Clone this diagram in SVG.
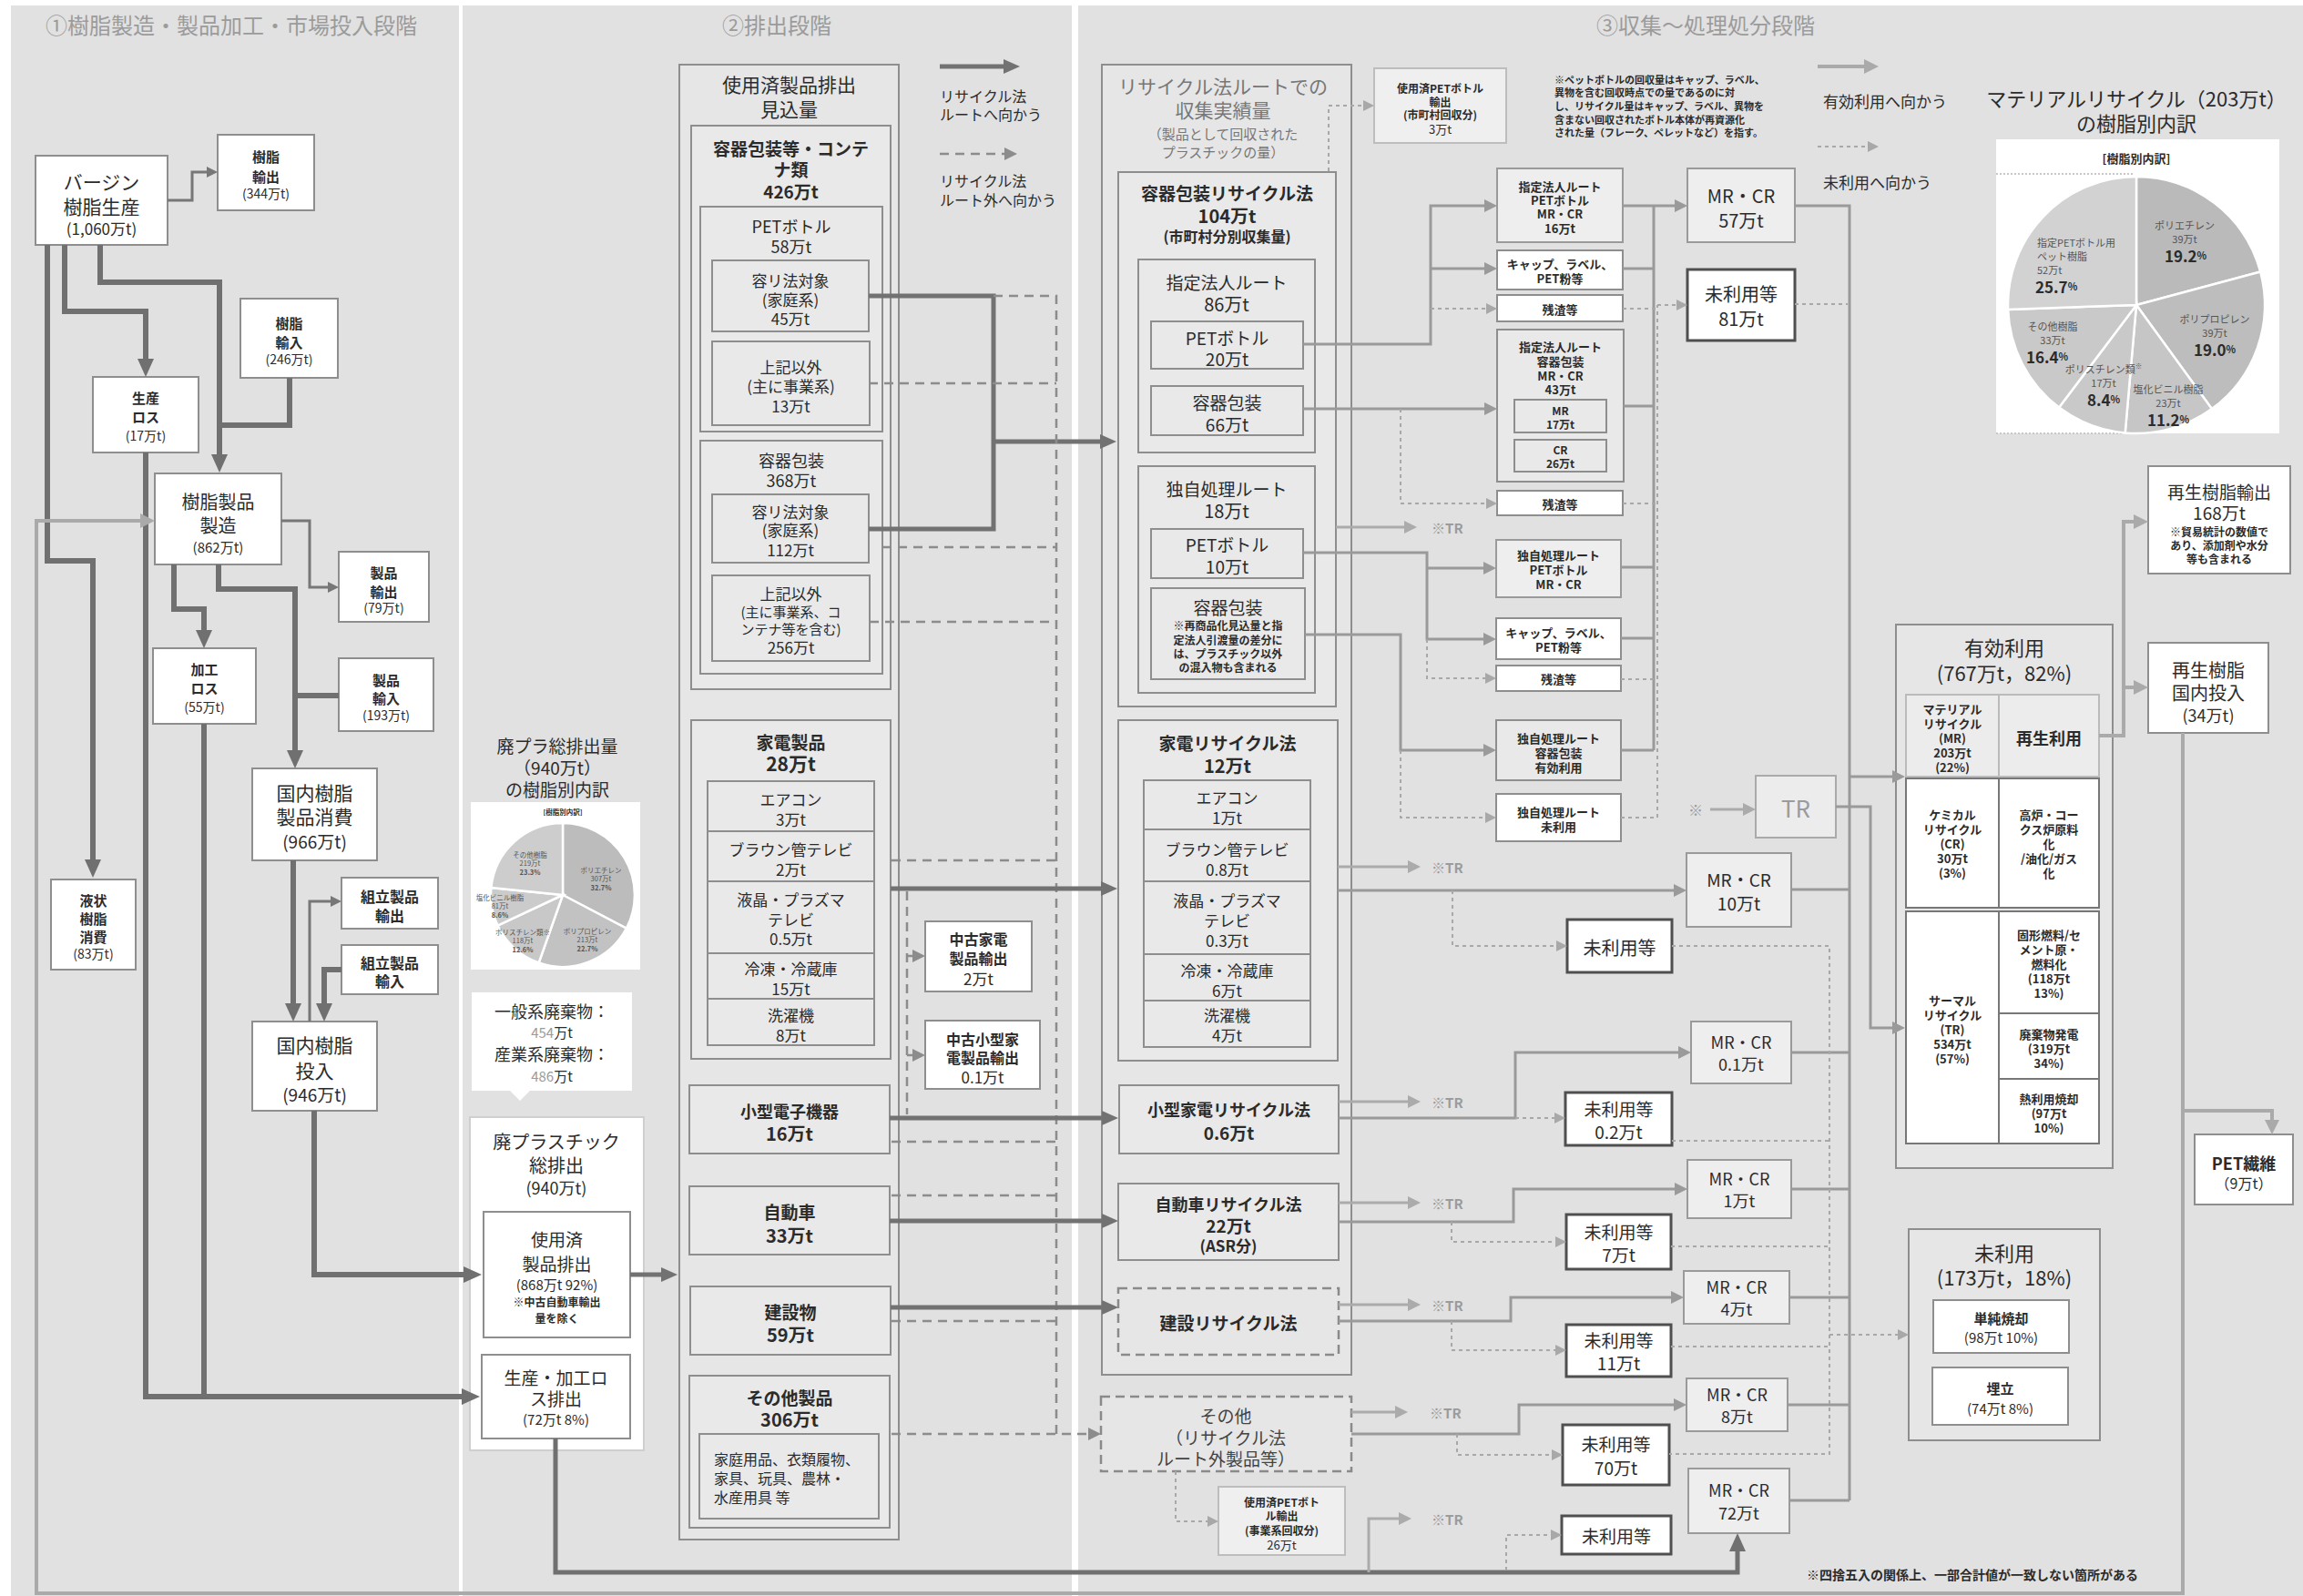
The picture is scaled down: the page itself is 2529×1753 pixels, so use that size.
<svg xmlns="http://www.w3.org/2000/svg" width="2529" height="1753" viewBox="0 0 2529 1753">
<style>
text{font-family:"Noto Sans CJK JP","Noto Sans CJK SC",sans-serif;fill:#2b2b2b;text-anchor:middle;dominant-baseline:central}
.st{text-anchor:start}
.b{font-weight:700}
.gr{fill:#9b9b9b}
.dg{fill:#555}
.f7{font-size:7.5px}.f11{font-size:11px}.f12{font-size:12px}.f13{font-size:13px}.f14{font-size:14px}.f15{font-size:15px}.f16{font-size:16px}.f17{font-size:17px}.f18{font-size:18px}.f19{font-size:19px}.f20{font-size:20px}.f21{font-size:21px}.f22{font-size:22px}.f24{font-size:24px}.f26{font-size:26px}
.pnl{fill:#e1e1e1}
.bw{fill:#fff;stroke:#8e8e8e;stroke-width:2}
.bg{fill:#e9e9e9;stroke:#8e8e8e;stroke-width:2}
.bo{fill:#e6e6e6;stroke:#8e8e8e;stroke-width:2}
.bl{fill:#eeeeee;stroke:#9a9a9a;stroke-width:2}
.bp{fill:#efefef;stroke:#bdbdbd;stroke-width:2}
.bu{fill:#fff;stroke:#4f4f4f;stroke-width:3}
.bd{fill:#e6e6e6;stroke:#8a8a8a;stroke-width:2.5;stroke-dasharray:10 6}
.ct{fill:none;stroke:#707070;stroke-width:6}
.cb{fill:none;stroke:#707070;stroke-width:5}
.cm{fill:none;stroke:#727272;stroke-width:5}
.cn{fill:none;stroke:#777;stroke-width:3}
.cg{fill:none;stroke:#9a9a9a;stroke-width:3}
.cp{fill:none;stroke:#ababab;stroke-width:3}
.cd{fill:none;stroke:#8c8c8c;stroke-width:2.5;stroke-dasharray:10 7}
.co{fill:none;stroke:#a8a8a8;stroke-width:2;stroke-dasharray:4 4}
.cl{fill:none;stroke:#aaaaaa;stroke-width:4}
.sep{stroke:#fff;stroke-width:2.5}
</style>
<defs>
<marker id="aT" viewBox="0 0 20 18" refX="4" refY="9" markerWidth="20" markerHeight="18" markerUnits="userSpaceOnUse" orient="auto"><path d="M0,0 L20,9 L0,18 Z" fill="#707070"/></marker>
<marker id="aM" viewBox="0 0 18 16" refX="4" refY="8" markerWidth="18" markerHeight="16" markerUnits="userSpaceOnUse" orient="auto"><path d="M0,0 L18,8 L0,16 Z" fill="#727272"/></marker>
<marker id="aN" viewBox="0 0 12 12" refX="2" refY="6" markerWidth="12" markerHeight="12" markerUnits="userSpaceOnUse" orient="auto"><path d="M0,0 L12,6 L0,12 Z" fill="#777"/></marker>
<marker id="aG" viewBox="0 0 14 14" refX="2" refY="7" markerWidth="14" markerHeight="14" markerUnits="userSpaceOnUse" orient="auto"><path d="M0,0 L14,7 L0,14 Z" fill="#9a9a9a"/></marker>
<marker id="aP" viewBox="0 0 14 14" refX="2" refY="7" markerWidth="14" markerHeight="14" markerUnits="userSpaceOnUse" orient="auto"><path d="M0,0 L14,7 L0,14 Z" fill="#ababab"/></marker>
<marker id="aD" viewBox="0 0 14 14" refX="2" refY="7" markerWidth="14" markerHeight="14" markerUnits="userSpaceOnUse" orient="auto"><path d="M0,0 L14,7 L0,14 Z" fill="#8c8c8c"/></marker>
<marker id="aO" viewBox="0 0 12 12" refX="2" refY="6" markerWidth="12" markerHeight="12" markerUnits="userSpaceOnUse" orient="auto"><path d="M0,0 L12,6 L0,12 Z" fill="#a8a8a8"/></marker>
<marker id="aL" viewBox="0 0 16 16" refX="3" refY="8" markerWidth="16" markerHeight="16" markerUnits="userSpaceOnUse" orient="auto"><path d="M0,0 L16,8 L0,16 Z" fill="#aaaaaa"/></marker>
</defs>

<rect width="2529" height="1753" fill="#fff"/>
<!-- stage panels -->
<g id="panels">
<rect class="pnl" x="12" y="6" width="492" height="1747"/>
<rect class="pnl" x="508" y="6" width="669" height="1747"/>
<rect class="pnl" x="1184" y="6" width="1345" height="1747"/>
<text class="f24 gr" x="254" y="26">①樹脂製造・製品加工・市場投入段階</text>
<text class="f24 gr" x="853" y="26">②排出段階</text>
<text class="f24 gr" x="1873" y="26">③収集～処理処分段階</text>
</g>

<!-- stage 1 -->
<g id="n-virgin"><rect class="bw" x="39" y="171" width="145" height="98"/><text class="f21"><tspan x="111.5" y="199">バージン</tspan><tspan x="111.5" y="226">樹脂生産</tspan></text><text class="f17" x="111.5" y="250">(1,060万t)</text></g>
<g id="n-resin-export"><rect class="bw" x="239" y="148" width="106" height="83"/><text class="f15 b"><tspan x="292" y="171">樹脂</tspan><tspan x="292" y="193">輸出</tspan></text><text class="f14" x="292" y="212">(344万t)</text></g>
<g id="n-resin-import"><rect class="bw" x="264" y="328" width="107" height="87"/><text class="f15 b"><tspan x="317.5" y="354">樹脂</tspan><tspan x="317.5" y="375">輸入</tspan></text><text class="f14" x="317.5" y="394">(246万t)</text></g>
<g id="n-prod-loss"><rect class="bw" x="102" y="414" width="116" height="83"/><text class="f15 b"><tspan x="160" y="436">生産</tspan><tspan x="160" y="457">ロス</tspan></text><text class="f14" x="160" y="478">(17万t)</text></g>
<g id="n-resin-product"><rect class="bw" x="170" y="520" width="139" height="100"/><text class="f20"><tspan x="239.5" y="550">樹脂製品</tspan><tspan x="239.5" y="576">製造</tspan></text><text class="f15" x="239.5" y="600">(862万t)</text></g>
<g id="n-product-export"><rect class="bw" x="372" y="606" width="99" height="77"/><text class="f15 b"><tspan x="421.5" y="628">製品</tspan><tspan x="421.5" y="649">輸出</tspan></text><text class="f14" x="421.5" y="667">(79万t)</text></g>
<g id="n-proc-loss"><rect class="bw" x="168" y="712" width="113" height="83"/><text class="f15 b"><tspan x="224.5" y="734">加工</tspan><tspan x="224.5" y="755">ロス</tspan></text><text class="f14" x="224.5" y="776">(55万t)</text></g>
<g id="n-product-import"><rect class="bw" x="372" y="723" width="104" height="80"/><text class="f15 b"><tspan x="424" y="746">製品</tspan><tspan x="424" y="766">輸入</tspan></text><text class="f14" x="424" y="785">(193万t)</text></g>
<g id="n-domestic-consume"><rect class="bw" x="277" y="844" width="137" height="101"/><text class="f21"><tspan x="345.5" y="870">国内樹脂</tspan><tspan x="345.5" y="896">製品消費</tspan></text><text class="f19" x="345.5" y="923">(966万t)</text></g>
<g id="n-liquid"><rect class="bw" x="56" y="966" width="93" height="99"/><text class="f15 b"><tspan x="102.5" y="988">液状</tspan><tspan x="102.5" y="1008">樹脂</tspan><tspan x="102.5" y="1028">消費</tspan></text><text class="f14" x="102.5" y="1047">(83万t)</text></g>
<g id="n-assy-export"><rect class="bw" x="375" y="964" width="106" height="56"/><text class="f16 b"><tspan x="428" y="984">組立製品</tspan><tspan x="428" y="1005">輸出</tspan></text></g>
<g id="n-assy-import"><rect class="bw" x="375" y="1038" width="106" height="54"/><text class="f16 b"><tspan x="428" y="1057">組立製品</tspan><tspan x="428" y="1077">輸入</tspan></text></g>
<g id="n-domestic-input"><rect class="bw" x="277" y="1122" width="137" height="98"/><text class="f21"><tspan x="345.5" y="1147">国内樹脂</tspan><tspan x="345.5" y="1175">投入</tspan></text><text class="f19" x="345.5" y="1201">(946万t)</text></g>

<!-- stage 2: waste plastic breakdown -->
<g id="n-waste-pie">
<text class="f19"><tspan x="612" y="818">廃プラ総排出量</tspan><tspan x="612" y="842">（940万t）</tspan><tspan x="612" y="866">の樹脂別内訳</tspan></text>
<rect x="517" y="881" width="186" height="184" fill="#fff"/>
<text class="f7 b" x="618" y="891">[樹脂別内訳]</text>
<path d="M618,983 L618,904 A79,79 0 0 1 687.9,1019.7 Z" fill="#bcbcbc" class="sep"/>
<path d="M618,983 L687.9,1019.7 A79,79 0 0 1 591.7,1057.5 Z" fill="#c2c2c2" class="sep"/>
<path d="M618,983 L591.7,1057.5 A79,79 0 0 1 546.5,1016.6 Z" fill="#c8c8c8" class="sep"/>
<path d="M618,983 L546.5,1016.6 A79,79 0 0 1 539.4,975.1 Z" fill="#cbcbcb" class="sep"/>
<path d="M618,983 L539.4,975.1 A79,79 0 0 1 618,904 Z" fill="#cdcdcd" class="sep"/>
<text class="f7 dg"><tspan x="582" y="938">その他樹脂</tspan><tspan x="582" y="947">219万t</tspan><tspan x="582" y="957" class="b">23.3%</tspan></text>
<text class="f7 dg"><tspan x="660" y="955">ポリエチレン</tspan><tspan x="660" y="964">307万t</tspan><tspan x="660" y="974" class="b">32.7%</tspan></text>
<text class="f7 dg"><tspan x="645" y="1022">ポリプロピレン</tspan><tspan x="645" y="1031">213万t</tspan><tspan x="645" y="1041" class="b">22.7%</tspan></text>
<text class="f7 dg"><tspan x="574" y="1023">ポリスチレン類※</tspan><tspan x="574" y="1032">118万t</tspan><tspan x="574" y="1042" class="b">12.6%</tspan></text>
<text class="f7 dg"><tspan x="549" y="985">塩化ビニル樹脂</tspan><tspan x="549" y="994">81万t</tspan><tspan x="549" y="1004" class="b">8.6%</tspan></text>
</g>
<g id="n-waste-split">
<path d="M518,1090 H694 V1198 H582 L571,1209 L560,1198 H518 Z" fill="#fff"/>
<text class="f18" x="606" y="1110">一般系廃棄物：</text>
<text class="f15" x="606" y="1133"><tspan class="gr">454</tspan>万t</text>
<text class="f18" x="606" y="1157">産業系廃棄物：</text>
<text class="f15" x="606" y="1181"><tspan class="gr">486</tspan>万t</text>
</g>
<g id="n-waste-total">
<rect x="516" y="1227" width="191" height="366" fill="#fff" stroke="#cfcfcf" stroke-width="2"/>
<text class="f20"><tspan x="611" y="1253">廃プラスチック</tspan><tspan x="611" y="1279">総排出</tspan></text><text class="f18" x="611" y="1304">(940万t)</text>
</g>
<g id="n-used-discharge"><rect class="bw" x="531" y="1331" width="161" height="138"/><text class="f19"><tspan x="611.5" y="1360">使用済</tspan><tspan x="611.5" y="1387">製品排出</tspan></text><text class="f15" x="611.5" y="1410">(868万t 92%)</text><text class="f12 b"><tspan x="611.5" y="1429">※中古自動車輸出</tspan><tspan x="611.5" y="1447">量を除く</tspan></text></g>
<g id="n-loss-discharge"><rect class="bw" x="529" y="1488" width="163" height="92"/><text class="f19"><tspan x="610.5" y="1512">生産・加工ロ</tspan><tspan x="610.5" y="1535">ス排出</tspan></text><text class="f15" x="610.5" y="1558">(72万t 8%)</text></g>

<!-- stage 2: expected discharge of used products -->
<g id="n-expected">
<rect class="bo" x="746" y="71" width="241" height="1620"/>
<text class="f21"><tspan x="866.5" y="92">使用済製品排出</tspan><tspan x="866.5" y="119">見込量</tspan></text>
</g>
<g id="n-container">
<rect class="bg" x="759" y="138" width="219" height="619"/>
<text class="f19 b"><tspan x="868.5" y="162">容器包装等・コンテ</tspan><tspan x="868.5" y="185">ナ類</tspan><tspan x="868.5" y="209">426万t</tspan></text>
<rect class="bg" x="769" y="227" width="200" height="247"/>
<text class="f18"><tspan x="869" y="248">PETボトル</tspan><tspan x="869" y="270">58万t</tspan></text>
<rect class="bg" x="782" y="286" width="172" height="78"/>
<text class="f17"><tspan x="868" y="307">容リ法対象</tspan><tspan x="868" y="328">(家庭系)</tspan><tspan x="868" y="349">45万t</tspan></text>
<rect class="bg" x="782" y="375" width="173" height="92"/>
<text class="f17"><tspan x="868.5" y="402">上記以外</tspan><tspan x="868.5" y="423">(主に事業系)</tspan><tspan x="868.5" y="445">13万t</tspan></text>
<rect class="bg" x="769" y="484" width="200" height="256"/>
<text class="f18"><tspan x="869" y="505">容器包装</tspan><tspan x="869" y="527">368万t</tspan></text>
<rect class="bg" x="782" y="543" width="172" height="75"/>
<text class="f17"><tspan x="868" y="561">容リ法対象</tspan><tspan x="868" y="581">(家庭系)</tspan><tspan x="868" y="603">112万t</tspan></text>
<rect class="bg" x="782" y="632" width="173" height="94"/>
<text class="f17"><tspan x="868.5" y="651">上記以外</tspan><tspan x="868.5" y="671" class="f15">(主に事業系、コ</tspan><tspan x="868.5" y="690" class="f15">ンテナ等を含む)</tspan><tspan x="868.5" y="710">256万t</tspan></text>
</g>
<g id="n-appliance">
<rect class="bg" x="759" y="791" width="219" height="372"/>
<text class="b"><tspan x="868.5" y="814" class="f19">家電製品</tspan><tspan x="868.5" y="838" class="f21">28万t</tspan></text>
<rect class="bg" x="777" y="858" width="183" height="55"/><text class="f17"><tspan x="868.5" y="877">エアコン</tspan><tspan x="868.5" y="899">3万t</tspan></text>
<rect class="bg" x="777" y="913" width="183" height="55"/><text class="f17"><tspan x="868.5" y="932">ブラウン管テレビ</tspan><tspan x="868.5" y="954">2万t</tspan></text>
<rect class="bg" x="777" y="968" width="183" height="79"/><text class="f17"><tspan x="868.5" y="987">液晶・プラズマ</tspan><tspan x="868.5" y="1009">テレビ</tspan><tspan x="868.5" y="1030">0.5万t</tspan></text>
<rect class="bg" x="777" y="1047" width="183" height="50"/><text class="f17"><tspan x="868.5" y="1063">冷凍・冷蔵庫</tspan><tspan x="868.5" y="1085">15万t</tspan></text>
<rect class="bg" x="777" y="1097" width="183" height="51"/><text class="f17"><tspan x="868.5" y="1114">洗濯機</tspan><tspan x="868.5" y="1136">8万t</tspan></text>
</g>
<g id="n-small-electronics"><rect class="bg" x="757" y="1192" width="220" height="75"/><text class="b"><tspan x="867" y="1220" class="f18">小型電子機器</tspan><tspan x="867" y="1244" class="f20">16万t</tspan></text></g>
<g id="n-car"><rect class="bg" x="757" y="1303" width="220" height="75"/><text class="b"><tspan x="867" y="1330" class="f19">自動車</tspan><tspan x="867" y="1356" class="f20">33万t</tspan></text></g>
<g id="n-building"><rect class="bg" x="758" y="1413" width="220" height="75"/><text class="b"><tspan x="868" y="1440" class="f19">建設物</tspan><tspan x="868" y="1465" class="f20">59万t</tspan></text></g>
<g id="n-other-products">
<rect class="bg" x="757" y="1511" width="220" height="167"/>
<text class="b"><tspan x="867" y="1534" class="f19">その他製品</tspan><tspan x="867" y="1558" class="f20">306万t</tspan></text>
<rect class="bg" x="768" y="1575" width="197" height="93"/>
<text class="f16 st"><tspan x="784" y="1602">家庭用品、衣類履物、</tspan><tspan x="784" y="1623">家具、玩具、農林・</tspan><tspan x="784" y="1644">水産用具 等</tspan></text>
</g>
<g id="n-used-appliance-export"><rect class="bw" x="1016" y="1012" width="117" height="77"/><text class="f16 b"><tspan x="1074.5" y="1031">中古家電</tspan><tspan x="1074.5" y="1052">製品輸出</tspan></text><text class="f17" x="1074.5" y="1074">2万t</text></g>
<g id="n-used-small-export"><rect class="bw" x="1016" y="1121" width="126" height="75"/><text class="f16 b"><tspan x="1079" y="1141">中古小型家</tspan><tspan x="1079" y="1161">電製品輸出</tspan></text><text class="f17" x="1079" y="1182">0.1万t</text></g>
<g id="legend-stage2">
<text class="f16 st"><tspan x="1032" y="105">リサイクル法</tspan><tspan x="1032" y="125">ルートへ向かう</tspan></text>
<text class="f16 st"><tspan x="1032" y="198">リサイクル法</tspan><tspan x="1032" y="219">ルート外へ向かう</tspan></text>
</g>

<!-- stage 3: collection under recycling laws -->
<g id="n-collected">
<rect class="bo" x="1210" y="71" width="274" height="1439"/>
<text class="f21" style="fill:#777"><tspan x="1343" y="94">リサイクル法ルートでの</tspan><tspan x="1343" y="120">収集実績量</tspan></text>
<text class="f15" style="fill:#777"><tspan x="1343" y="146">（製品として回収された</tspan><tspan x="1343" y="166">プラスチックの量）</tspan></text>
</g>
<g id="n-pet-export-muni"><rect class="bp" x="1509" y="75" width="145" height="82"/><text class="f12 b"><tspan x="1581.5" y="96">使用済PETボトル</tspan><tspan x="1581.5" y="111">輸出</tspan><tspan x="1581.5" y="125">(市町村回収分)</tspan></text><text class="f13" x="1581.5" y="141">3万t</text></g>
<g id="note-pet">
<text class="f11 b st"><tspan x="1707" y="87">※ペットボトルの回収量はキャップ、ラベル、</tspan><tspan x="1707" y="101">異物を含む回収時点での量であるのに対</tspan><tspan x="1707" y="116">し、リサイクル量はキャップ、ラベル、異物を</tspan><tspan x="1707" y="131">含まない回収されたボトル本体が再資源化</tspan><tspan x="1707" y="145">された量（フレーク、ペレットなど）を指す。</tspan></text>
</g>
<g id="n-packaging-law">
<rect class="bg" x="1228" y="189" width="239" height="587"/>
<text class="b"><tspan x="1347.5" y="211" class="f19">容器包装リサイクル法</tspan><tspan x="1347.5" y="236" class="f20">104万t</tspan><tspan x="1347.5" y="259" class="f16">(市町村分別収集量)</tspan></text>
<rect class="bg" x="1250" y="285" width="194" height="212"/>
<text class="f19"><tspan x="1347" y="309">指定法人ルート</tspan><tspan x="1347" y="333" class="f20">86万t</tspan></text>
<rect class="bg" x="1264" y="353" width="167" height="52"/><text class="f19"><tspan x="1347.5" y="370">PETボトル</tspan><tspan x="1347.5" y="393">20万t</tspan></text>
<rect class="bg" x="1264" y="424" width="167" height="54"/><text class="f19"><tspan x="1347.5" y="441">容器包装</tspan><tspan x="1347.5" y="465">66万t</tspan></text>
<rect class="bg" x="1250" y="512" width="194" height="249"/>
<text class="f19"><tspan x="1347" y="536">独自処理ルート</tspan><tspan x="1347" y="560" class="f20">18万t</tspan></text>
<rect class="bg" x="1264" y="581" width="167" height="54"/><text class="f19"><tspan x="1347.5" y="597">PETボトル</tspan><tspan x="1347.5" y="621">10万t</tspan></text>
<rect class="bg" x="1264" y="646" width="169" height="100"/><text class="f19" x="1348.5" y="666">容器包装</text>
<text class="f12 b"><tspan x="1348.5" y="686">※再商品化見込量と指</tspan><tspan x="1348.5" y="702">定法人引渡量の差分に</tspan><tspan x="1348.5" y="717">は、プラスチック以外</tspan><tspan x="1348.5" y="732">の混入物も含まれる</tspan></text>
</g>
<g id="n-appliance-law">
<rect class="bg" x="1228" y="791" width="241" height="374"/>
<text class="b"><tspan x="1348" y="815" class="f19">家電リサイクル法</tspan><tspan x="1348" y="840" class="f20">12万t</tspan></text>
<rect class="bg" x="1256" y="857" width="183" height="54"/><text class="f17"><tspan x="1347.5" y="875">エアコン</tspan><tspan x="1347.5" y="897">1万t</tspan></text>
<rect class="bg" x="1256" y="911" width="183" height="57"/><text class="f17"><tspan x="1347.5" y="932">ブラウン管テレビ</tspan><tspan x="1347.5" y="954">0.8万t</tspan></text>
<rect class="bg" x="1256" y="968" width="183" height="80"/><text class="f17"><tspan x="1347.5" y="988">液晶・プラズマ</tspan><tspan x="1347.5" y="1010">テレビ</tspan><tspan x="1347.5" y="1032">0.3万t</tspan></text>
<rect class="bg" x="1256" y="1048" width="183" height="51"/><text class="f17"><tspan x="1347.5" y="1065">冷凍・冷蔵庫</tspan><tspan x="1347.5" y="1087">6万t</tspan></text>
<rect class="bg" x="1256" y="1099" width="183" height="51"/><text class="f17"><tspan x="1347.5" y="1114">洗濯機</tspan><tspan x="1347.5" y="1136">4万t</tspan></text>
</g>
<g id="n-small-law"><rect class="bg" x="1229" y="1192" width="241" height="75"/><text class="b"><tspan x="1349.5" y="1218" class="f18">小型家電リサイクル法</tspan><tspan x="1349.5" y="1243" class="f19">0.6万t</tspan></text></g>
<g id="n-car-law"><rect class="bg" x="1228" y="1300" width="242" height="84"/><text class="b"><tspan x="1349" y="1322" class="f18">自動車リサイクル法</tspan><tspan x="1349" y="1345" class="f19">22万t</tspan><tspan x="1349" y="1367" class="f17">(ASR分)</tspan></text></g>
<g id="n-building-law"><rect class="bd" x="1228" y="1415" width="242" height="73"/><text class="f19 b" x="1349" y="1452">建設リサイクル法</text></g>
<g id="n-other-route"><rect class="bd" x="1209" y="1534" width="275" height="82"/><text class="f19" style="fill:#444"><tspan x="1346" y="1554">その他</tspan><tspan x="1346" y="1578">（リサイクル法</tspan><tspan x="1346" y="1601">ルート外製品等）</tspan></text></g>
<g id="n-pet-export-biz"><rect class="bp" x="1338" y="1633" width="139" height="75"/><text class="f12 b"><tspan x="1407.5" y="1649">使用済PETボト</tspan><tspan x="1407.5" y="1664">ル輸出</tspan><tspan x="1407.5" y="1680">(事業系回収分)</tspan></text><text class="f13" x="1407.5" y="1696">26万t</text></g>

<!-- stage 3: treatment routes -->
<g id="n-dr-pet"><rect class="bl" x="1644" y="185" width="138" height="81"/><text class="f13 b"><tspan x="1713" y="204">指定法人ルート</tspan><tspan x="1713" y="219">PETボトル</tspan><tspan x="1713" y="234">MR・CR</tspan><tspan x="1713" y="250">16万t</tspan></text></g>
<g id="n-dr-cap"><rect class="bw" x="1644" y="275" width="138" height="43"/><text class="f13 b"><tspan x="1713" y="289">キャップ、ラベル、</tspan><tspan x="1713" y="305">PET粉等</tspan></text></g>
<g id="n-dr-residue1"><rect class="bw" x="1644" y="324" width="138" height="29"/><text class="f13 b" x="1713" y="339">残渣等</text></g>
<g id="n-dr-pack"><rect class="bg" x="1644" y="362" width="139" height="167"/><text class="f13 b"><tspan x="1713.5" y="380">指定法人ルート</tspan><tspan x="1713.5" y="396">容器包装</tspan><tspan x="1713.5" y="412">MR・CR</tspan><tspan x="1713.5" y="427">43万t</tspan></text>
<rect class="bg" x="1663" y="439" width="101" height="36"/><text class="f12 b"><tspan x="1713.5" y="450">MR</tspan><tspan x="1713.5" y="465">17万t</tspan></text>
<rect class="bg" x="1663" y="483" width="101" height="35"/><text class="f12 b"><tspan x="1713.5" y="493">CR</tspan><tspan x="1713.5" y="508">26万t</tspan></text></g>
<g id="n-dr-residue2"><rect class="bw" x="1644" y="539" width="138" height="27"/><text class="f13 b" x="1713" y="553">残渣等</text></g>
<g id="n-own-pet"><rect class="bl" x="1643" y="593" width="137" height="63"/><text class="f13 b"><tspan x="1711.5" y="609">独自処理ルート</tspan><tspan x="1711.5" y="625">PETボトル</tspan><tspan x="1711.5" y="641">MR・CR</tspan></text></g>
<g id="n-own-cap"><rect class="bw" x="1643" y="679" width="137" height="45"/><text class="f13 b"><tspan x="1711.5" y="694">キャップ、ラベル、</tspan><tspan x="1711.5" y="710">PET粉等</tspan></text></g>
<g id="n-own-residue"><rect class="bw" x="1643" y="731" width="137" height="28"/><text class="f13 b" x="1711.5" y="745">残渣等</text></g>
<g id="n-own-pack"><rect class="bg" x="1643" y="791" width="137" height="66"/><text class="f13 b"><tspan x="1711.5" y="810">独自処理ルート</tspan><tspan x="1711.5" y="826">容器包装</tspan><tspan x="1711.5" y="842">有効利用</tspan></text></g>
<g id="n-own-unused"><rect class="bw" x="1643" y="872" width="137" height="52"/><text class="f13 b"><tspan x="1711.5" y="891">独自処理ルート</tspan><tspan x="1711.5" y="907">未利用</tspan></text></g>

<g id="n-mr57"><rect class="bl" x="1853" y="185" width="118" height="81"/><text class="f20"><tspan x="1912" y="214">MR・CR</tspan><tspan x="1912" y="241">57万t</tspan></text></g>
<g id="n-un81"><rect class="bu" x="1853" y="296" width="118" height="78"/><text class="f20"><tspan x="1912" y="322">未利用等</tspan><tspan x="1912" y="349">81万t</tspan></text></g>
<g id="n-mr10"><rect class="bl" x="1852" y="937" width="115" height="81"/><text class="f19"><tspan x="1909.5" y="965">MR・CR</tspan><tspan x="1909.5" y="991">10万t</tspan></text></g>
<g id="n-un-app"><rect class="bu" x="1721" y="1010" width="115" height="58"/><text class="f20" x="1778.5" y="1040">未利用等</text></g>
<g id="n-mr01"><rect class="bl" x="1857" y="1122" width="110" height="68"/><text class="f18"><tspan x="1912" y="1144">MR・CR</tspan><tspan x="1912" y="1168">0.1万t</tspan></text></g>
<g id="n-un02"><rect class="bu" x="1719" y="1200" width="117" height="58"/><text class="f19"><tspan x="1777.5" y="1217">未利用等</tspan><tspan x="1777.5" y="1242">0.2万t</tspan></text></g>
<g id="n-mr1"><rect class="bl" x="1853" y="1274" width="114" height="64"/><text class="f18"><tspan x="1910" y="1294">MR・CR</tspan><tspan x="1910" y="1318">1万t</tspan></text></g>
<g id="n-un7"><rect class="bu" x="1720" y="1334" width="115" height="60"/><text class="f19"><tspan x="1777.5" y="1352">未利用等</tspan><tspan x="1777.5" y="1377">7万t</tspan></text></g>
<g id="n-mr4"><rect class="bl" x="1849" y="1396" width="116" height="58"/><text class="f18"><tspan x="1907" y="1413">MR・CR</tspan><tspan x="1907" y="1437">4万t</tspan></text></g>
<g id="n-un11"><rect class="bu" x="1720" y="1455" width="115" height="57"/><text class="f19"><tspan x="1777.5" y="1471">未利用等</tspan><tspan x="1777.5" y="1496">11万t</tspan></text></g>
<g id="n-mr8"><rect class="bl" x="1852" y="1514" width="111" height="58"/><text class="f18"><tspan x="1907.5" y="1531">MR・CR</tspan><tspan x="1907.5" y="1555">8万t</tspan></text></g>
<g id="n-un70"><rect class="bu" x="1716" y="1565" width="117" height="66"/><text class="f19"><tspan x="1774.5" y="1585">未利用等</tspan><tspan x="1774.5" y="1611">70万t</tspan></text></g>
<g id="n-mr72"><rect class="bl" x="1854" y="1613" width="111" height="71"/><text class="f18"><tspan x="1909.5" y="1636">MR・CR</tspan><tspan x="1909.5" y="1661">72万t</tspan></text></g>
<g id="n-un-last"><rect class="bu" x="1715" y="1665" width="120" height="42"/><text class="f19" x="1775" y="1686">未利用等</text></g>
<g id="n-tr"><rect x="1928" y="852" width="88" height="68" fill="#ececec" stroke="#aaa" stroke-width="2"/><text class="f26 gr" x="1972" y="886">TR</text><text class="f16 gr" x="1862" y="889">※</text></g>
<g id="tr-labels" class="f15 b">
<text class="gr st" x="1572" y="579">※TR</text>
<text class="gr st" x="1572" y="952">※TR</text>
<text class="gr st" x="1572" y="1210">※TR</text>
<text class="gr st" x="1572" y="1321">※TR</text>
<text class="gr st" x="1572" y="1433">※TR</text>
<text class="gr st" x="1570" y="1551">※TR</text>
<text class="gr st" x="1572" y="1668">※TR</text>
</g>

<!-- effective use / unused -->
<g id="n-effective">
<rect class="bo" x="2082" y="686" width="238" height="597"/>
<text class="f22"><tspan x="2201" y="710">有効利用</tspan><tspan x="2201" y="738">(767万t，82%)</tspan></text>
<rect x="2093" y="763" width="102" height="90" fill="#ececec" stroke="#bbb" stroke-width="2"/>
<text class="f13 b"><tspan x="2144" y="778">マテリアル</tspan><tspan x="2144" y="794">リサイクル</tspan><tspan x="2144" y="810">(MR)</tspan><tspan x="2144" y="826">203万t</tspan><tspan x="2144" y="842">(22%)</tspan></text>
<rect x="2195" y="763" width="110" height="90" fill="#ececec" stroke="#bbb" stroke-width="2"/>
<text class="f18 b" x="2250" y="810">再生利用</text>
<rect x="2093" y="855" width="102" height="142" fill="#fff" stroke="#777" stroke-width="2"/>
<text class="f13 b"><tspan x="2144" y="894">ケミカル</tspan><tspan x="2144" y="910">リサイクル</tspan><tspan x="2144" y="926">(CR)</tspan><tspan x="2144" y="942">30万t</tspan><tspan x="2144" y="958">(3%)</tspan></text>
<rect x="2195" y="855" width="110" height="142" fill="#fff" stroke="#777" stroke-width="2"/>
<text class="f13 b"><tspan x="2250" y="894">高炉・コー</tspan><tspan x="2250" y="910">クス炉原料</tspan><tspan x="2250" y="926">化</tspan><tspan x="2250" y="942">/油化/ガス</tspan><tspan x="2250" y="958">化</tspan></text>
<rect x="2093" y="1001" width="102" height="255" fill="#fff" stroke="#777" stroke-width="2"/>
<text class="f13 b"><tspan x="2144" y="1098">サーマル</tspan><tspan x="2144" y="1114">リサイクル</tspan><tspan x="2144" y="1130">(TR)</tspan><tspan x="2144" y="1146">534万t</tspan><tspan x="2144" y="1162">(57%)</tspan></text>
<rect x="2195" y="1001" width="110" height="112" fill="#fff" stroke="#777" stroke-width="2"/>
<text class="f13 b"><tspan x="2250" y="1026">固形燃料/セ</tspan><tspan x="2250" y="1042">メント原・</tspan><tspan x="2250" y="1058">燃料化</tspan><tspan x="2250" y="1074">(118万t</tspan><tspan x="2250" y="1090">13%)</tspan></text>
<rect x="2195" y="1113" width="110" height="72" fill="#fff" stroke="#777" stroke-width="2"/>
<text class="f13 b"><tspan x="2250" y="1135">廃棄物発電</tspan><tspan x="2250" y="1151">(319万t</tspan><tspan x="2250" y="1167">34%)</tspan></text>
<rect x="2195" y="1185" width="110" height="71" fill="#fff" stroke="#777" stroke-width="2"/>
<text class="f13 b"><tspan x="2250" y="1206">熱利用焼却</tspan><tspan x="2250" y="1222">(97万t</tspan><tspan x="2250" y="1238">10%)</tspan></text>
</g>
<g id="n-recycled-export"><rect class="bw" x="2359" y="512" width="156" height="118"/><text class="f19"><tspan x="2437" y="539">再生樹脂輸出</tspan><tspan x="2437" y="562">168万t</tspan></text><text class="f12 b"><tspan x="2437" y="583">※貿易統計の数値で</tspan><tspan x="2437" y="598">あり、添加剤や水分</tspan><tspan x="2437" y="613">等も含まれる</tspan></text></g>
<g id="n-recycled-domestic"><rect class="bw" x="2359" y="706" width="132" height="99"/><text class="f20"><tspan x="2425" y="735">再生樹脂</tspan><tspan x="2425" y="760">国内投入</tspan></text><text class="f18" x="2425" y="785">(34万t)</text></g>
<g id="n-pet-fiber"><rect class="bw" x="2410" y="1246" width="108" height="77"/><text class="f18 b" x="2464" y="1277">PET繊維</text><text class="f16" x="2464" y="1299">（9万t）</text></g>
<g id="n-unused">
<rect class="bo" x="2096" y="1350" width="210" height="232"/>
<text class="f22"><tspan x="2201" y="1375">未利用</tspan><tspan x="2201" y="1402">(173万t，18%)</tspan></text>
<rect class="bw" x="2123" y="1428" width="149" height="58"/><text class="f15"><tspan x="2197.5" y="1447" class="b">単純焼却</tspan><tspan x="2197.5" y="1468">(98万t 10%)</tspan></text>
<rect class="bw" x="2122" y="1502" width="149" height="63"/><text class="f15"><tspan x="2196.5" y="1524" class="b">埋立</tspan><tspan x="2196.5" y="1546">(74万t 8%)</tspan></text>
</g>
<g id="n-mr-pie">
<text class="f22"><tspan x="2346" y="107">マテリアルリサイクル（203万t）</tspan><tspan x="2346" y="134">の樹脂別内訳</tspan></text>
<rect x="2192" y="153" width="311" height="323" fill="#fff"/>
<text class="f13 b" x="2346" y="173">[樹脂別内訳]</text>
<path d="M2192,191 H2344 M2192,476 H2344" stroke="#c8c8c8" stroke-width="2" stroke-dasharray="2 2"/>
<path d="M2346,335 L2346,194 A141,141 0 0 1 2482.2,298.5 Z" fill="#bababa" class="sep"/>
<path d="M2346,335 L2482.2,298.5 A141,141 0 0 1 2428.9,449.1 Z" fill="#bdbdbd" class="sep"/>
<path d="M2346,335 L2428.9,449.1 A141,141 0 0 1 2333.7,475.5 Z" fill="#c6c6c6" class="sep"/>
<path d="M2346,335 L2333.7,475.5 A141,141 0 0 1 2261.1,447.6 Z" fill="#c9c9c9" class="sep"/>
<path d="M2346,335 L2261.1,447.6 A141,141 0 0 1 2205.1,339.9 Z" fill="#c9c9c9" class="sep"/>
<path d="M2346,335 L2205.1,339.9 A141,141 0 0 1 2346,194 Z" fill="#d2d2d2" class="sep"/>
<text class="f11 dg"><tspan x="2399" y="247">ポリエチレン</tspan><tspan x="2399" y="262">39万t</tspan></text><text class="f17 b" x="2400" y="280">19.2<tspan class="f11">%</tspan></text>
<text class="f11 dg"><tspan x="2432" y="350">ポリプロピレン</tspan><tspan x="2432" y="365">39万t</tspan></text><text class="f17 b" x="2432" y="383">19.0<tspan class="f11">%</tspan></text>
<text class="f11 dg st"><tspan x="2237" y="266">指定PETボトル用</tspan><tspan x="2237" y="281">ペット樹脂</tspan><tspan x="2237" y="296">52万t</tspan></text><text class="f17 b st" x="2235" y="314">25.7<tspan class="f11">%</tspan></text>
<text class="f11 dg"><tspan x="2254" y="358">その他樹脂</tspan><tspan x="2254" y="373">33万t</tspan></text><text class="f17 b" x="2248" y="391">16.4<tspan class="f11">%</tspan></text>
<text class="f11 dg"><tspan x="2310" y="405">ポリスチレン類<tspan class="f7" dy="-4">※</tspan></tspan><tspan x="2310" y="420">17万t</tspan></text><text class="f17 b" x="2310" y="438">8.4<tspan class="f11">%</tspan></text>
<text class="f11 dg"><tspan x="2381" y="427">塩化ビニル樹脂</tspan><tspan x="2381" y="442">23万t</tspan></text><text class="f17 b" x="2381" y="460">11.2<tspan class="f11">%</tspan></text>
</g>
<g id="legend-stage3">
<text class="f17 st" x="2002" y="110">有効利用へ向かう</text>
<text class="f17 st" x="2002" y="199">未利用へ向かう</text>
</g>
<text id="footnote" class="f14 b st" x="1984" y="1729">※四捨五入の関係上、一部合計値が一致しない箇所がある</text>

<!-- flow lines -->
<g id="connectors">
<!-- stage 1 -->
<path class="ct" d="M52,269 V616 H102 V948" marker-end="url(#aT)"/>
<path class="ct" d="M71,269 V342 H160 V398" marker-end="url(#aT)"/>
<path class="ct" d="M110,269 V310 H241 V503" marker-end="url(#aT)"/>
<path class="ct" d="M318,415 V467 H241"/>
<path class="cn" d="M184,220 H211 V189 H229" marker-end="url(#aN)"/>
<path class="cn" d="M309,572 H340 V645 H362" marker-end="url(#aN)"/>
<path class="ct" d="M191,620 V669 H224 V696" marker-end="url(#aT)"/>
<path class="ct" d="M240,620 V647 H324 V828" marker-end="url(#aT)"/>
<path class="ct" d="M372,764 H324"/>
<path class="ct" d="M224,795 V1534"/>
<path class="ct" d="M160,497 V1534 H511" marker-end="url(#aT)"/>
<path class="ct" d="M322,945 V1106" marker-end="url(#aT)"/>
<path class="cn" d="M340,1122 V990 H365" marker-end="url(#aN)"/>
<path class="ct" d="M375,1065 H356 V1106" marker-end="url(#aT)"/>
<path class="ct" d="M345,1220 V1400 H513" marker-end="url(#aT)"/>
<!-- recycled resin loop back to manufacturing -->
<path class="cl" d="M2397,805 V1750 H40 V572 H157" marker-end="url(#aL)"/>
<!-- stage 2 -->
<path class="cm" d="M692,1400 H730" marker-end="url(#aM)"/>
<path class="cm" d="M954,325 H1091 V581 H954"/>
<path class="cm" d="M1091,485 H1212" marker-end="url(#aM)"/>
<path class="cd" d="M1091,325 H1160 V1575"/>
<path class="cd" d="M954,421 H1160 M969,601 H1160 M955,683 H1160 M979,945 H1160 M979,1254 H1160 M979,1313 H1160 M979,1451 H1160"/>
<path class="cd" d="M979,1575 H1197" marker-end="url(#aD)"/>
<path class="cm" d="M978,976 H1213" marker-end="url(#aM)"/>
<path class="cm" d="M977,1228 H1214" marker-end="url(#aM)"/>
<path class="cm" d="M977,1341 H1214" marker-end="url(#aM)"/>
<path class="cm" d="M978,1436 H1214" marker-end="url(#aM)"/>
<path class="cd" d="M996,979 V1224"/>
<path class="cd" d="M996,1050 H1004" marker-end="url(#aD)"/>
<path class="cd" d="M996,1159 H1004" marker-end="url(#aD)"/>
<path class="cm" d="M1032,73 H1106" marker-end="url(#aM)"/>
<path class="cd" d="M1032,169 H1105" marker-end="url(#aD)"/>
<!-- stage 3 -->
<path class="co" d="M1459,188 V116 H1499" marker-end="url(#aO)"/>
<path class="co" d="M1291,1616 V1671 H1328" marker-end="url(#aO)"/>
<path class="cg" d="M1431,378 H1571 V226 H1632" marker-end="url(#aG)"/>
<path class="cg" d="M1571,295 H1632" marker-end="url(#aG)"/>
<path class="co" d="M1571,339 H1634" marker-end="url(#aO)"/>
<path class="cg" d="M1431,449 H1632" marker-end="url(#aG)"/>
<path class="co" d="M1538,449 V553 H1634" marker-end="url(#aO)"/>
<path class="cg" d="M1431,607 H1567 V702 H1631" marker-end="url(#aG)"/>
<path class="cg" d="M1567,624 H1631" marker-end="url(#aG)"/>
<path class="co" d="M1567,702 V745 H1633" marker-end="url(#aO)"/>
<path class="cg" d="M1433,697 H1538 V824 H1631" marker-end="url(#aG)"/>
<path class="co" d="M1538,824 V898 H1633" marker-end="url(#aO)"/>
<path class="cg" d="M1816,226 V824 M1782,295 H1816 M1783,446 H1816 M1780,623 H1816 M1780,701 H1816 M1780,824 H1816"/>
<path class="cg" d="M1782,226 H1841" marker-end="url(#aG)"/>
<path class="co" d="M1782,339 H1820 M1782,553 H1820 M1780,746 H1820 M1780,898 H1820 V335"/>
<path class="co" d="M1820,335 H1843" marker-end="url(#aO)"/>
<path class="cp" d="M1467,579 H1544" marker-end="url(#aP)"/>
<path class="cp" d="M1469,952 H1548" marker-end="url(#aP)"/>
<path class="cp" d="M1470,1210 H1548" marker-end="url(#aP)"/>
<path class="cp" d="M1470,1321 H1548" marker-end="url(#aP)"/>
<path class="cp" d="M1470,1433 H1548" marker-end="url(#aP)"/>
<path class="cp" d="M1484,1551 H1534" marker-end="url(#aP)"/>
<path class="cp" d="M1878,889 H1916" marker-end="url(#aP)"/>
<path class="cg" d="M1469,978 H1840" marker-end="url(#aG)"/>
<path class="co" d="M1595,978 V1039 H1711" marker-end="url(#aO)"/>
<path class="cg" d="M1470,1228 H1664 V1156 H1845" marker-end="url(#aG)"/>
<path class="co" d="M1664,1228 H1709" marker-end="url(#aO)"/>
<path class="cg" d="M1470,1342 H1662 V1306 H1841" marker-end="url(#aG)"/>
<path class="co" d="M1594,1342 V1364 H1710" marker-end="url(#aO)"/>
<path class="cg" d="M1470,1451 H1659 V1425 H1837" marker-end="url(#aG)"/>
<path class="co" d="M1594,1451 V1483 H1710" marker-end="url(#aO)"/>
<path class="cg" d="M1484,1575 H1668 V1543 H1840" marker-end="url(#aG)"/>
<path class="co" d="M1600,1575 V1598 H1706" marker-end="url(#aO)"/>
<path class="cb" d="M610,1580 V1727 H1908 V1700" marker-end="url(#aT)"/>
<path class="cp" d="M1503,1727 V1668 H1538" marker-end="url(#aP)"/>
<path class="co" d="M1654,1725 V1686 H1705" marker-end="url(#aO)"/>
<!-- to effective use / unused -->
<path class="cg" d="M1971,226 H2031 V1648 M1967,977 H2031 M1967,1156 H2031 M1967,1306 H2031 M1965,1425 H2031 M1963,1543 H2031 M1965,1648 H2031"/>
<path class="cg" d="M2031,853 H2080" marker-end="url(#aG)"/>
<path class="co" d="M1971,334 H2029"/>
<path class="co" d="M1836,1039 H2009 V1597 H1833 M1836,1253 H2009 M1835,1369 H2009 M1835,1479 H2009"/>
<path class="co" d="M2009,1466 H2086" marker-end="url(#aO)"/>
<path class="cg" d="M2016,886 H2054 V1129 H2080" marker-end="url(#aG)"/>
<path class="cl" d="M2305,808 H2332 V573 H2346" marker-end="url(#aL)"/>
<path class="cl" d="M2332,755 H2346" marker-end="url(#aL)"/>
<path class="cl" d="M2397,1220 H2495 V1233" marker-end="url(#aL)"/>
<path class="cl" d="M1996,73 H2050" marker-end="url(#aL)"/>
<path class="co" d="M1996,161 H2053" marker-end="url(#aO)"/>
</g>
</svg>
